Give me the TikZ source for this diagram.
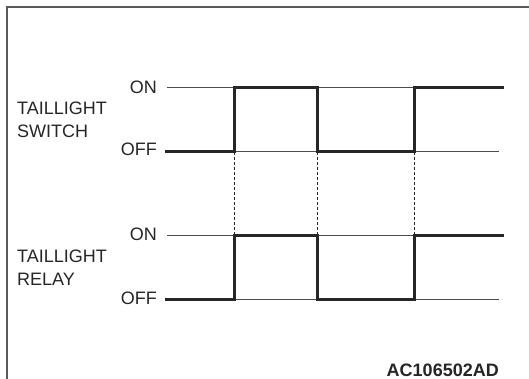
\documentclass[tikz,border=0pt]{standalone}
\usepackage{fontspec}
\setmainfont{Liberation Sans}
\begin{document}
\begin{tikzpicture}[x=1pt,y=-1pt,
  lbl/.style={inner sep=0pt,font=\fontsize{18}{20}\selectfont,text=black!85},
  thinline/.style={line width=1pt,draw=black!70},
  wave/.style={line width=3pt,draw=black!85,line join=miter,line cap=rect},
  guide/.style={line width=1pt,draw=black!85,dash pattern=on 3pt off 2pt},
  frame/.style={line width=2pt,draw=black!65}]
\useasboundingbox (0,0) rectangle (529,379);
% frame
\draw[frame] (7,380) -- (7,7) -- (530,7);
% labels
\node[lbl,anchor=base west] (t1) at (17,115) {TAILLIGHT};
\node[lbl,anchor=base west] (s1) at (17,138) {SWITCH};
\node[lbl,anchor=base east] (on1) at (157,94) {ON};
\node[lbl,anchor=base east] (off1) at (157,156) {OFF};
\node[lbl,anchor=base west] (t2) at (17,262) {TAILLIGHT};
\node[lbl,anchor=base west] (r2) at (17,285) {RELAY};
\node[lbl,anchor=base east] (on2) at (157,240) {ON};
\node[lbl,anchor=base east] (off2) at (157,304) {OFF};
\node[lbl,anchor=base east,font=\bfseries\fontsize{18}{20}\selectfont] (code) at (499,376) {AC106502AD};
% switch coordinates
\coordinate (a0) at (166,152);
\coordinate (a1) at (234,152);
\coordinate (a2) at (234,88);
\coordinate (a3) at (317,88);
\coordinate (a4) at (317,152);
\coordinate (a5) at (414,152);
\coordinate (a6) at (414,88);
\coordinate (a7) at (502,88);
% relay coordinates
\coordinate (b0) at (166,299);
\coordinate (b1) at (234,299);
\coordinate (b2) at (234,235);
\coordinate (b3) at (317,235);
\coordinate (b4) at (317,299);
\coordinate (b5) at (414,299);
\coordinate (b6) at (414,235);
\coordinate (b7) at (502,235);
% level lines
\draw[thinline] (167,88) -- (499,88);
\draw[thinline] (167,152) -- (499,152);
\draw[thinline] (167,235) -- (499,235);
\draw[thinline] (167,299) -- (499,299);
% dashed guides
\draw[guide] (a1) -- (b2);
\draw[guide] (a4) -- (b3);
\draw[guide] (a5) -- (b6);
% waveforms
\draw[wave] (a0) -- (a1) -- (a2) -- (a3) -- (a4) -- (a5) -- (a6) -- (a7);
\draw[wave] (b0) -- (b1) -- (b2) -- (b3) -- (b4) -- (b5) -- (b6) -- (b7);
\end{tikzpicture}
\end{document}
